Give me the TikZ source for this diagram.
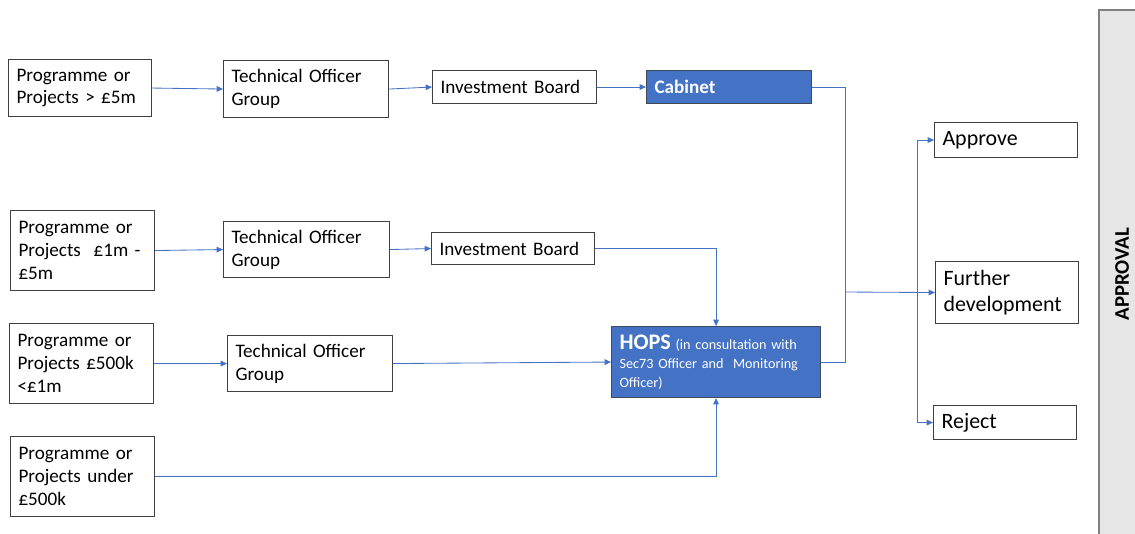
\documentclass[tikz,border=0pt]{standalone}
\usepackage{fontspec}
\setmainfont{Carlito}
\usepackage{xcolor}
\usepackage{tikz}
\usetikzlibrary{arrows.meta,positioning,calc}

\definecolor{flowblue}{HTML}{4472C4}
\definecolor{boxedge}{HTML}{404040}
\definecolor{bargray}{HTML}{E7E6E6}
\definecolor{baredge}{HTML}{808080}

\tikzset{
    box/.style={draw=boxedge, line width=0.75pt, fill=white, anchor=north west,
        align=left, inner xsep=0.2cm, inner ysep=0pt,
        font=\fontsize{13.6}{16.3}\selectfont},
    bigbox/.style={box, font=\fontsize{15.6}{18.4}\selectfont},
    bluebox/.style={box, fill=flowblue, draw=boxedge!80!flowblue, text=white},
    link/.style={draw=flowblue, line width=0.6pt, -{Triangle[length=4.5pt,width=4pt]}},
    plainlink/.style={draw=flowblue, line width=0.6pt}
}

\begin{document}
\begin{tikzpicture}[x=0.025cm, y=-0.025cm]
    \useasboundingbox (0,0) rectangle (1135,533);

    % Over 5m
    \node[box, minimum width=3.575cm, minimum height=1.425cm, text width=3.175cm] (p1) at (8,59) {Programme or\\Projects > £5m};
    \node[box, minimum width=4.125cm, minimum height=1.425cm, text width=3.725cm] (t1) at (223,60) {Technical Officer\\Group};
    \node[box, minimum width=4.1cm, minimum height=0.825cm, text width=3.7cm] (i1) at (432,70) {Investment Board};
    \node[bluebox, minimum width=4.125cm, minimum height=0.825cm, text width=3.725cm] (cab) at (646,70) {\bfseries Cabinet};

    % 1m - 5m
    \node[box, minimum width=3.6cm, minimum height=2cm, text width=3.2cm] (p2) at (10,210) {Programme or\\Projects~ £1m -\\£5m};
    \node[box, minimum width=4.15cm, minimum height=1.4cm, text width=3.75cm] (t2) at (223,221) {Technical Officer\\Group};
    \node[box, minimum width=4.075cm, minimum height=0.8cm, text width=3.675cm] (i2) at (431,232) {Investment Board};

    % 500k - 1m
    \node[box, minimum width=3.6cm, minimum height=2cm, text width=3.2cm] (p3) at (9,323) {Programme or\\Projects £500k\\<£1m};
    \node[box, minimum width=4.125cm, minimum height=1.4cm, text width=3.725cm] (t3) at (227,335) {Technical Officer\\Group};

    % under 500k
    \node[box, minimum width=3.6cm, minimum height=2cm, text width=3.2cm] (p4) at (10,436) {Programme or\\Projects under\\£500k};

    % HOPS
    \node[bluebox, minimum width=5.225cm, minimum height=1.775cm, text width=4.825cm,
          font=\fontsize{10.1}{13.5}\selectfont] (hops) at (611,326)
          {{\fontsize{15.8}{13.5}\selectfont\bfseries HOPS} (in consultation with\\Sec73 Officer and~ Monitoring\\Officer)};

    % Outcomes
    \node[bigbox, minimum width=3.575cm, minimum height=0.875cm, text width=3.175cm] (app) at (934,122) {Approve};
    \node[bigbox, minimum width=3.575cm, minimum height=1.55cm, text width=3.175cm] (fur) at (935,261) {Further\\development};
    \node[bigbox, minimum width=3.575cm, minimum height=0.85cm, text width=3.175cm] (rej) at (933,405) {Reject};

    % Approval bar
    \draw[fill=bargray, draw=baredge, line width=0.75pt] (1099,10) rectangle (1140,540);
    \node[rotate=90, font=\fontsize{14.8}{16}\selectfont\bfseries] (apl) at (1122,274) {APPROVAL};

    % Connectors
    \draw[link] (p1.east) -- (t1.west);
    \draw[link] (t1.east) -- (i1.west);
    \draw[link] (i1.east) -- (cab.west);
    \draw[link] (p2.east) -- (t2.west);
    \draw[link] (t2.east) -- (i2.west);
    \draw[link] (i2.east) -| (hops.north);
    \draw[link] (p3.east) -- (t3.west);
    \draw[link] (t3.east) -- (hops.west);
    \draw[link] (p4.east) -| (hops.south);

    \coordinate (split) at (845,292);
    \coordinate (fork) at (917,292);
    \draw[plainlink] (cab.east) -| (split) |- (hops.east);
    \draw[link] (split) -- (fur.west);
    \draw[link] (fork) |- (app.west);
    \draw[link] (fork) |- (rej.west);
\end{tikzpicture}
\end{document}
